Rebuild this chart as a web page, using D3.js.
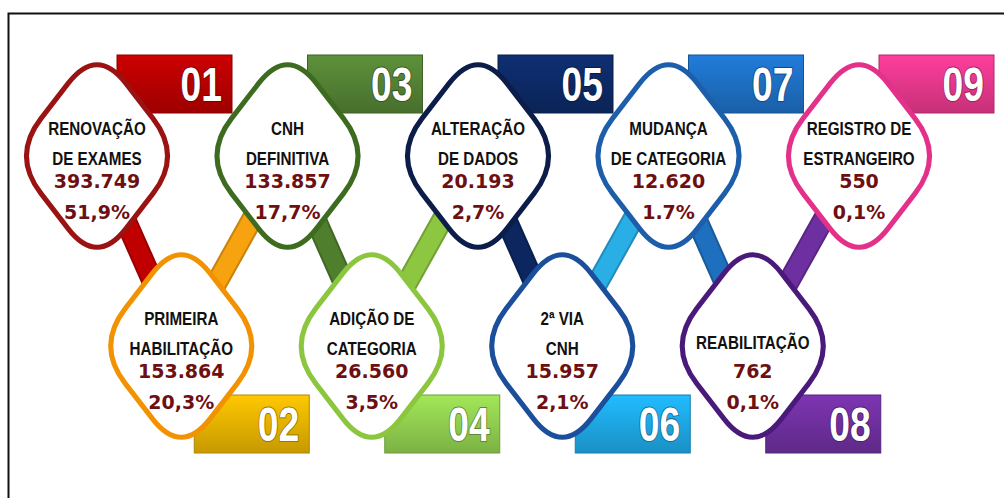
<!DOCTYPE html>
<html>
<head>
<meta charset="utf-8">
<script src="https://cdn.jsdelivr.net/npm/d3@7"></script>
<style>
  body { margin: 0; background: #fff; }
  svg { display: block; }
</style>
</head>
<body>
<div id="container"></div>
<script>
let w = 1004;
let h = 498;

// data, in the order 01 .. 09
let codes = ["01", "02", "03", "04", "05", "06", "07", "08", "09"];
let labels = [
  ["RENOVAÇÃO", "DE EXAMES"],
  ["PRIMEIRA", "HABILITAÇÃO"],
  ["CNH", "DEFINITIVA"],
  ["ADIÇÃO DE", "CATEGORIA"],
  ["ALTERAÇÃO", "DE DADOS"],
  ["2ª VIA", "CNH"],
  ["MUDANÇA", "DE CATEGORIA"],
  ["REABILITAÇÃO"],
  ["REGISTRO DE", "ESTRANGEIRO"]
];
let totals = [393749, 153864, 133857, 26560, 20193, 15957, 12620, 762, 550];
let shares = ["51,9%", "20,3%", "17,7%", "3,5%", "2,7%", "2,1%", "1.7%", "0,1%", "0,1%"];

// colours per step
let outlineColors = ["#9a1212", "#f39200", "#3d6b20", "#8cc63f", "#0b1d48", "#1b4f9c", "#1d5eab", "#4a1a7a", "#e3318a"];
let tabColors = ["#b80000", "#e8b400", "#548235", "#92d050", "#0d2a66", "#1ea9e6", "#1e6fc4", "#7030a0", "#e8388d"];
let linkColors = ["#c00000", "#f7a20f", "#4f7f2d", "#8dc641", "#0c2660", "#29aee6", "#1f6fbf", "#6e2fa0"];

let fmt = d3.formatLocale({ decimal: ",", thousands: ".", grouping: [3], currency: ["", ""] }).format(",d");

let items = codes.map((c, i) => ({
  i: i,
  code: c,
  label: labels[i],
  total: totals[i],
  share: shares[i],
  row: i % 2 === 0 ? "top" : "bottom"
}));

let xScale = d3.scalePoint().domain(d3.range(codes.length)).range([97, 859]);
let yScale = d3.scalePoint().domain(["top", "bottom"]).range([156, 346]);
let bottomShift = -11;

function cx(d) { return xScale(d.i) + (d.row === "bottom" ? bottomShift : 0); }
function cy(d) { return yScale(d.row); }

let viz = d3.select("#container")
  .append("svg")
  .attr("width", w)
  .attr("height", h);

viz.append("rect")
  .attr("width", w).attr("height", h)
  .attr("fill", "#fff");

// frame
viz.append("rect")
  .attr("x", 8.5).attr("y", 13.5)
  .attr("width", 1000).attr("height", 500)
  .attr("fill", "none")
  .attr("stroke", "#111")
  .attr("stroke-width", 2);

let defs = viz.append("defs");
items.forEach(d => {
  let g = defs.append("linearGradient")
    .attr("id", "tab" + d.i)
    .attr("x1", 0).attr("y1", 0).attr("x2", 0).attr("y2", 1);
  g.append("stop").attr("offset", "0%").attr("stop-color", d3.color(tabColors[d.i]).brighter(0.3));
  g.append("stop").attr("offset", "100%").attr("stop-color", d3.color(tabColors[d.i]).darker(0.45));
});

// connectors between neighbouring steps
let links = d3.pairs(items);
viz.append("g").selectAll("line").data(links).enter()
  .append("line")
  .attr("x1", d => cx(d[0])).attr("y1", d => cy(d[0]))
  .attr("x2", d => cx(d[1])).attr("y2", d => cy(d[1]))
  .attr("stroke", (d, k) => d3.color(linkColors[k]).darker(0.6))
  .attr("stroke-width", 22);
viz.append("g").selectAll("line").data(links).enter()
  .append("line")
  .attr("x1", d => cx(d[0])).attr("y1", d => cy(d[0]))
  .attr("x2", d => cx(d[1])).attr("y2", d => cy(d[1]))
  .attr("stroke", (d, k) => linkColors[k])
  .attr("stroke-width", 18);

// number tabs
let tabW = 115, tabH = 58;
let tabs = viz.append("g").selectAll("g").data(items).enter()
  .append("g")
  .attr("transform", d => d.row === "top"
    ? `translate(${cx(d) + 20},${cy(d) - 101})`
    : `translate(${cx(d) + 13},${cy(d) + 49})`);

tabs.append("rect")
  .attr("width", tabW).attr("height", tabH)
  .attr("fill", d => `url(#tab${d.i})`)
  .attr("stroke", d => d3.color(tabColors[d.i]).darker(0.8))
  .attr("stroke-width", 1);

tabs.append("text")
  .attr("transform", `translate(${tabW - 10},${tabH / 2 + 17}) scale(0.76,1)`)
  .attr("text-anchor", "end")
  .attr("font-family", "'Liberation Sans', Arial, sans-serif")
  .attr("font-weight", "bold")
  .attr("font-size", 49)
  .attr("fill", "#fff")
  .attr("stroke", d => d3.color(tabColors[d.i]).darker(1.2))
  .attr("stroke-width", 2)
  .attr("paint-order", "stroke")
  .text(d => d.code);

// rounded rhombus
function blob(hw, hh, f) {
  let pts = [[0, -hh], [hw, 0], [0, hh], [-hw, 0]];
  let p = d3.path();
  let n = pts.length;
  for (let k = 0; k < n; k++) {
    let v = pts[k];
    let prev = pts[(k + n - 1) % n];
    let next = pts[(k + 1) % n];
    let a = [v[0] + (prev[0] - v[0]) * f, v[1] + (prev[1] - v[1]) * f];
    let b = [v[0] + (next[0] - v[0]) * f, v[1] + (next[1] - v[1]) * f];
    if (k === 0) p.moveTo(a[0], a[1]); else p.lineTo(a[0], a[1]);
    p.quadraticCurveTo(v[0], v[1], b[0], b[1]);
  }
  p.closePath();
  return p.toString();
}

let shape = blob(85, 110, 0.34);

let nodes = viz.append("g").selectAll("g").data(items).enter()
  .append("g")
  .attr("transform", d => `translate(${cx(d)},${cy(d)})`);

nodes.append("path")
  .attr("d", shape)
  .attr("fill", "#fff")
  .attr("stroke", d => outlineColors[d.i])
  .attr("stroke-width", 5)
  .attr("stroke-linejoin", "round");

let labelFont = "'Liberation Sans', Arial, sans-serif";
let valueFont = "'DejaVu Sans', Verdana, sans-serif";

nodes.each(function (d) {
  let g = d3.select(this);
  let lines = d.label;
  let startY = lines.length === 2 ? -21 : 3;
  lines.forEach((t, k) => {
    g.append("text")
      .attr("transform", `translate(0,${startY + k * 30}) scale(0.8,1)`)
      .attr("text-anchor", "middle")
      .attr("font-family", labelFont)
      .attr("font-weight", "bold")
      .attr("font-size", 19)
      .attr("fill", "#111")
      .text(t);
  });
  g.append("text")
    .attr("y", 32)
    .attr("text-anchor", "middle")
    .attr("font-family", valueFont)
    .attr("font-weight", "bold")
    .attr("font-size", 19)
    .attr("fill", "#6e0f12")
    .text(fmt(d.total));
  g.append("text")
    .attr("y", 63)
    .attr("text-anchor", "middle")
    .attr("font-family", valueFont)
    .attr("font-weight", "bold")
    .attr("font-size", 19)
    .attr("fill", "#6e0f12")
    .text(d.share);
});
</script>
</body>
</html>
